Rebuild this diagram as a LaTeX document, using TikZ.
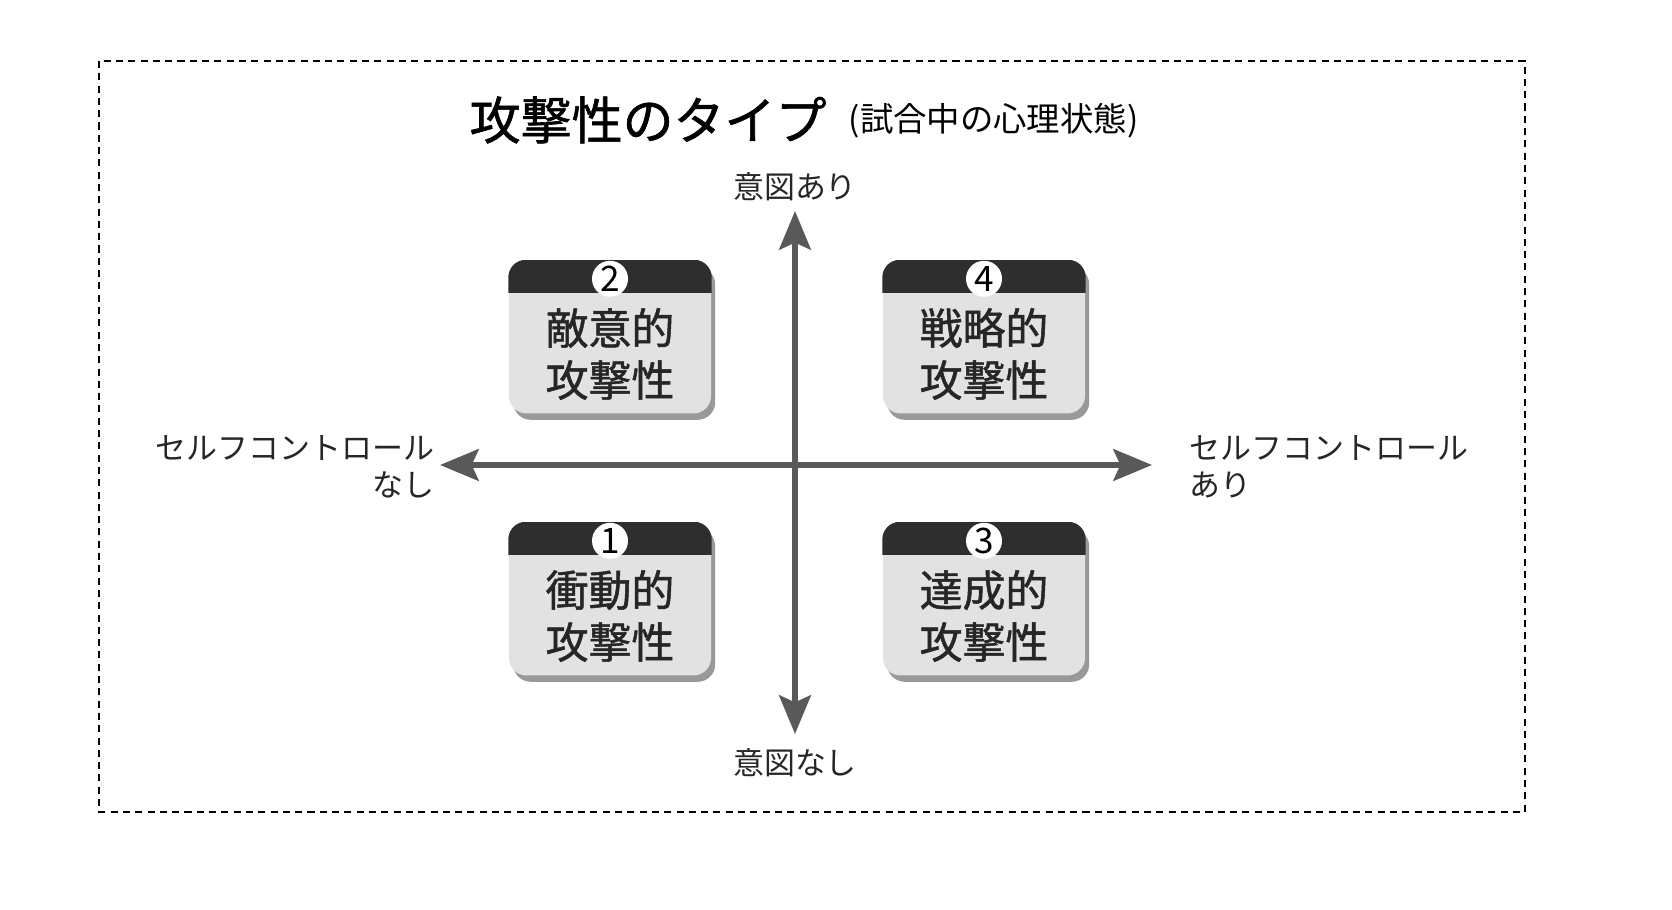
\documentclass[tikz,border=0pt]{standalone}
\usepackage{fontspec}
\setmainfont{Noto Sans CJK JP}
\newfontfamily\medfont{Noto Sans CJK JP}[FakeBold=1.2]
\usepackage{tikz}
\usetikzlibrary{arrows.meta,shadows}

\definecolor{axisgray}{HTML}{595959}
\definecolor{boxgray}{HTML}{E2E2E2}
\definecolor{headdark}{HTML}{2E2E2E}

\tikzset{
  axisarrow/.style={line width=1.6pt, axisgray, {Stealth[length=11pt,width=9pt,inset=2pt]}-{Stealth[length=11pt,width=9pt,inset=2pt]}},
  axislabel/.style={font=\fontsize{8.8}{10.6}\selectfont, text=black!85, inner sep=0pt},
  typebox/.style={minimum width=2.02cm, minimum height=1.53cm, rounded corners=5pt, fill=boxgray,
    drop shadow={shadow xshift=1.2pt, shadow yshift=-1.8pt, fill=black!40, opacity=1}},
  numcircle/.style={circle, fill=white, minimum size=0.36cm, inner sep=0pt, font=\fontsize{10}{10}\selectfont},
  boxtext/.style={align=center, font=\fontsize{12.2}{14.8}\selectfont\medfont, text=black!85, inner sep=0pt}
}

\begin{document}
\begin{tikzpicture}
			\useasboundingbox (0,0) rectangle (16.72,9.10);
			\draw[dashed, line width=0.5pt, dash pattern=on 2pt off 1.5pt] (0.99,8.49) rectangle (15.25,0.98);
			%%%%%%%%%%%%%%%%%%%%%%%%%%%%%%%%
			\node[anchor=west, inner sep=0pt, font=\fontsize{14.5}{16}\selectfont\medfont] (title) at (4.69,7.90) {攻撃性のタイプ};
			\node[anchor=west, inner sep=0pt, font=\fontsize{9.5}{11}\selectfont] (subtitle) at (8.48,7.89) {(試合中の心理状態)};
			%%%%%%%%%%%%%%%%%%%%%%%%%%%%%%%%
			\coordinate (top) at (7.95,6.99);
			\coordinate (bottom) at (7.95,1.76);
			\coordinate (left) at (4.40,4.45);
			\coordinate (right) at (11.52,4.45);
			%%%%%%%%%%%%%%%%%%%%%%%%%%%%%%%%
			\foreach \num/\x/\y/\first in {2/6.10/5.73/敵意的, 4/9.84/5.73/戦略的, 1/6.10/3.11/衝動的, 3/9.84/3.11/達成的}{
				\node[typebox] (box\num) at (\x,\y) {};
				\begin{scope}
					\clip[rounded corners=5pt] (box\num.south west) rectangle (box\num.north east);
					\fill[headdark] (box\num.north west) rectangle ([yshift=-0.33cm]box\num.north east);
				\end{scope}
				\node[numcircle] (num\num) at ([yshift=-0.19cm]box\num.north) {\num};
				\node[boxtext] (text\num) at ([yshift=-0.17cm]box\num.center) {\first\\攻撃性};
			}
			%%%%%%%%%%%%%%%%%%%%%%%%%%%%%%%%
			\draw[axisarrow] (bottom) -- (top);
			\draw[axisarrow] (left) -- (right);
			%%%%%%%%%%%%%%%%%%%%%%%%%%%%%%%%
			\node[axislabel] (intyes) at (7.95,7.23) {意図あり};
			\node[axislabel] (intno) at (7.95,1.47) {意図なし};
			\node[axislabel, anchor=east, align=right] (ctrlno) at (4.35,4.43) {セルフコントロール\\なし};
			\node[axislabel, anchor=west, align=left] (ctrlyes) at (11.89,4.43) {セルフコントロール\\あり};
		\end{tikzpicture}
\end{document}
